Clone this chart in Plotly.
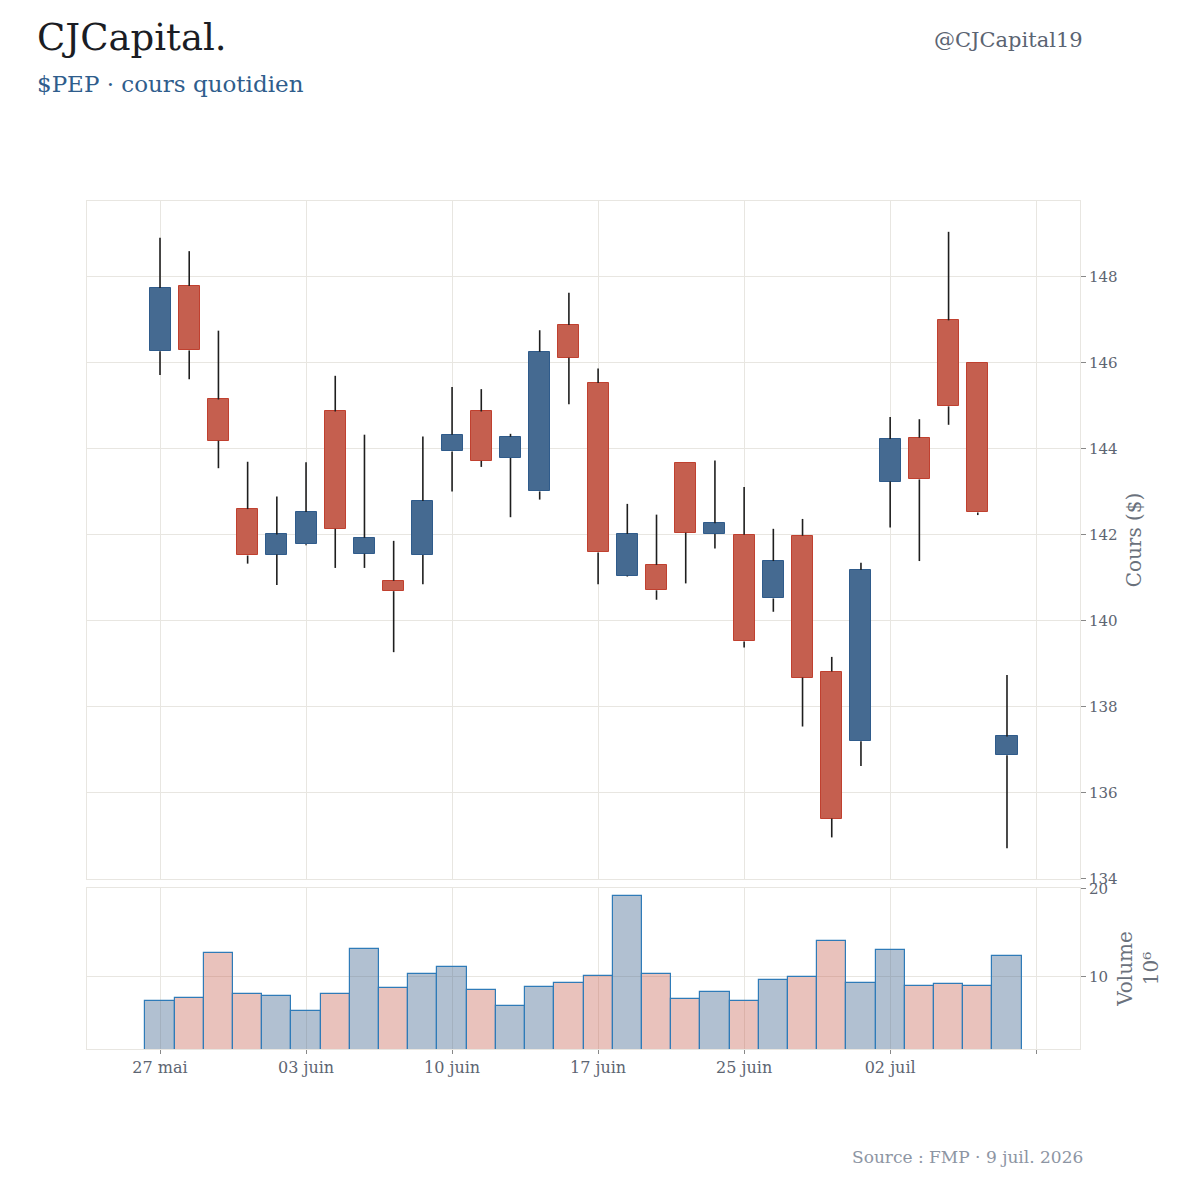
import plotly.graph_objects as go
from plotly.subplots import make_subplots

# ---------------- data ----------------
dates = ["2026-05-27", "2026-05-28", "2026-05-29", "2026-06-01", "2026-06-02",
         "2026-06-03", "2026-06-04", "2026-06-05", "2026-06-08", "2026-06-09",
         "2026-06-10", "2026-06-11", "2026-06-12", "2026-06-15", "2026-06-16",
         "2026-06-17", "2026-06-18", "2026-06-22", "2026-06-23", "2026-06-24",
         "2026-06-25", "2026-06-26", "2026-06-29", "2026-06-30", "2026-07-01",
         "2026-07-02", "2026-07-06", "2026-07-07", "2026-07-08", "2026-07-09"]

opens = [146.26, 147.78, 145.14, 142.59, 141.53, 141.77, 144.86, 141.55, 140.92, 141.52,
         143.93, 144.86, 143.78, 143.00, 146.87, 145.52, 141.04, 141.29, 143.67, 142.01,
         141.99, 140.51, 141.97, 138.81, 137.19, 143.23, 144.25, 146.98, 145.99, 136.86]
highs = [148.90, 148.59, 146.74, 143.69, 142.88, 143.68, 145.69, 144.32, 141.85, 144.28,
         145.43, 145.38, 144.34, 146.75, 147.62, 145.86, 142.71, 142.46, 143.67, 143.72,
         143.10, 142.13, 142.36, 139.15, 141.34, 144.73, 144.68, 149.04, 145.99, 138.73]
lows = [145.71, 145.61, 143.54, 141.32, 140.82, 141.75, 141.22, 141.22, 139.26, 140.84,
        143.00, 143.57, 142.40, 142.81, 145.03, 140.84, 141.02, 140.48, 140.86, 141.67,
        139.37, 140.20, 137.53, 134.95, 136.61, 142.16, 141.38, 144.55, 142.45, 134.70]
closes = [147.73, 146.28, 144.18, 141.51, 142.00, 142.52, 142.13, 141.92, 140.68, 142.78,
          144.32, 143.71, 144.27, 146.25, 146.11, 141.58, 142.01, 140.70, 142.04, 142.26,
          139.51, 141.38, 138.67, 135.39, 141.17, 144.22, 143.28, 144.98, 142.51, 137.30]
volumes_m = [7.32, 7.62, 12.75, 8.04, 7.85, 6.15, 8.04, 13.17, 8.72, 10.34,
             11.17, 8.56, 6.75, 8.90, 9.28, 10.11, 19.13, 10.30, 7.55, 8.26,
             7.28, 9.70, 10.00, 14.08, 9.36, 13.02, 8.98, 9.24, 9.00, 12.40]

tick_labels = ["27 mai", "03 juin", "10 juin", "17 juin", "25 juin", "02 juil", ""]

# ---------------- styling ----------------
FONT = "DejaVu Serif"
UP_FILL, UP_LINE = "#456a91", "#2f5b8b"
DN_FILL, DN_LINE = "#c55f4f", "#c0402f"
VOL_UP, VOL_DN, VOL_EDGE = "rgba(69,106,145,0.42)", "rgba(197,95,79,0.38)", "#2f7bb8"
GRID = "#e8e6e1"
TICK_COL = "#5d6572"

n = len(dates)
idx = list(range(n))
up = [c >= o for o, c in zip(opens, closes)]

fig = make_subplots(rows=2, cols=1, shared_xaxes=True)

# wicks (drawn as segments above and below the body)
wx, wy = [], []
for i in idx:
    top = max(opens[i], closes[i])
    bot = min(opens[i], closes[i])
    wx += [i, i, None, i, i, None]
    wy += [highs[i], top, None, bot, lows[i], None]
fig.add_trace(go.Scatter(x=wx, y=wy, mode="lines",
                         line=dict(color="#1e1e1e", width=1.6),
                         hoverinfo="skip", showlegend=False), row=1, col=1)

# bodies
fig.add_trace(go.Bar(
    x=idx,
    y=[abs(c - o) for o, c in zip(opens, closes)],
    base=[min(o, c) for o, c in zip(opens, closes)],
    width=0.72,
    marker=dict(color=[UP_FILL if u else DN_FILL for u in up],
                line=dict(color=[UP_LINE if u else DN_LINE for u in up], width=1)),
    showlegend=False), row=1, col=1)

# volume
fig.add_trace(go.Bar(
    x=idx, y=volumes_m, width=1.0,
    marker=dict(color=[VOL_UP if u else VOL_DN for u in up],
                line=dict(color=VOL_EDGE, width=1.2)),
    showlegend=False), row=2, col=1)

span = max(highs) - min(lows)
prange = [min(lows) - 0.05 * span, max(highs) + 0.05 * span]
vrange = [min(volumes_m) * 0.3, max(volumes_m) * 1.05]

tickvals = list(range(0, n + 1, 5))
xr = [-2.5, n + 1.5]

axis_common = dict(showgrid=True, gridcolor=GRID, gridwidth=1, zeroline=False,
                   showline=True, mirror=True, linecolor=GRID, linewidth=1)

fig.update_layout(
    width=1200, height=1200,
    paper_bgcolor="white", plot_bgcolor="white",
    margin=dict(l=87, r=120, t=201, b=151),
    font=dict(family=FONT, color=TICK_COL, size=15),
    barmode="overlay", bargap=0,
    showlegend=False,
    xaxis=dict(range=xr, tickvals=tickvals, showticklabels=False, ticks="", **axis_common),
    xaxis2=dict(range=xr, tickvals=tickvals, ticktext=tick_labels, ticks="outside",
                ticklen=4, tickcolor="#888", tickfont=dict(size=16, color=TICK_COL),
                **axis_common),
    yaxis=dict(domain=[0.2005, 1.0], range=prange, side="right", dtick=2,
               ticks="outside", ticklen=5, tickcolor="#888",
               tickfont=dict(size=15, color=TICK_COL),
               title=dict(text="Cours ($)", font=dict(size=20, color="#6a717c"), standoff=10),
               **axis_common),
    yaxis2=dict(domain=[0.0, 0.19], range=vrange, side="right", tickvals=[10, 20],
                ticks="outside", ticklen=5, tickcolor="#888",
                tickfont=dict(size=15, color=TICK_COL),
                title=dict(text="Volume<br>10⁶", font=dict(size=20, color="#6a717c"),
                           standoff=10),
                **axis_common),
)

def py(p):
    return (1049 - p) / 848.0

def px(p):
    return (p - 87) / 993.0

fig.add_annotation(text="CJCapital.", xref="paper", yref="paper", x=px(35), y=py(38),
                   xanchor="left", yanchor="middle", showarrow=False,
                   font=dict(family=FONT, size=37, color="#1b1d24"))
fig.add_annotation(text="$PEP · cours quotidien", xref="paper", yref="paper", x=px(35), y=py(84),
                   xanchor="left", yanchor="middle", showarrow=False,
                   font=dict(family=FONT, size=23, color="#2f5d8c"))
fig.add_annotation(text="@CJCapital19", xref="paper", yref="paper", x=px(1085), y=py(40),
                   xanchor="right", yanchor="middle", showarrow=False,
                   font=dict(family=FONT, size=21, color="#5b6472"))
fig.add_annotation(text="Source : FMP · 9 juil. 2026", xref="paper", yref="paper",
                   x=px(1085), y=py(1157), xanchor="right", yanchor="middle", showarrow=False,
                   font=dict(family=FONT, size=17, color="#8d95a3"))

fig.write_html("out.html")
